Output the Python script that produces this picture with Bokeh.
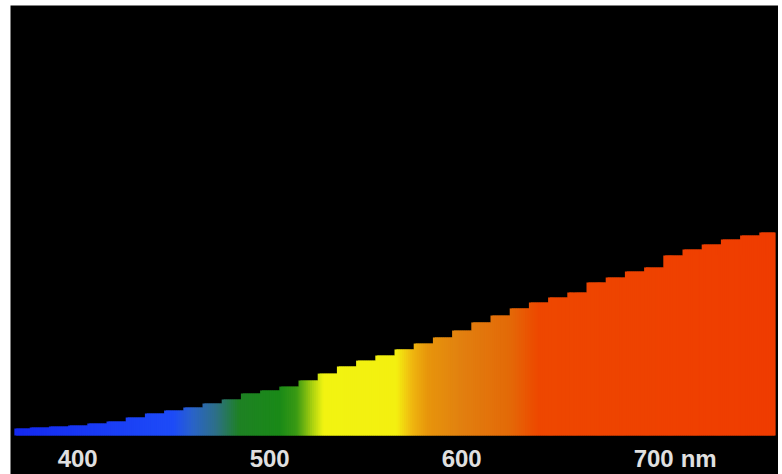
import numpy as np
from bokeh.plotting import figure
from bokeh.models import ColumnDataSource, Spacer, Range1d
from bokeh.layouts import row, column
from bokeh.core.properties import value
from bokeh.embed import file_html
from bokeh.resources import INLINE

# --- data: relative intensity per 10-nm step ---
wavelength_nm = [370, 380, 390, 400, 410, 420, 430, 440, 450, 460,
                 470, 480, 490, 500, 510, 520, 530, 540, 550, 560,
                 570, 580, 590, 600, 610, 620, 630, 640, 650, 660,
                 670, 680, 690, 700, 710, 720, 730, 740, 750, 760]
intensity = [3.4, 3.9, 4.4, 4.9, 5.9, 6.9, 8.9, 10.8, 12.3, 13.8,
             15.8, 17.7, 20.7, 22.2, 24.1, 27.1, 30.5, 34.0, 36.9, 39.4,
             42.4, 45.3, 48.3, 51.7, 55.7, 59.1, 62.6, 65.5, 68.0, 70.4,
             75.4, 77.8, 80.8, 82.8, 88.7, 91.6, 94.1, 96.6, 98.5, 100.0]
tick_values = [400, 500, 600, 700]
tick_labels = ["400", "500", "600", "700"]
unit_label = "nm"

# spectral colour stops (style)
stop_nm = [365, 450, 460, 472, 484, 505, 514, 522, 528, 566, 574, 582, 600, 625, 640, 765]
stop_hex = ["#1428f0", "#1e4cf8", "#2a64c8", "#2e7088", "#1f8224", "#1a8a18",
            "#3a9a14", "#a8d010", "#f2f412", "#f4f010", "#f0b810", "#e8960c",
            "#e28010", "#e46a08", "#ee4800", "#f03c00"]

def hex2rgb(h):
    return [int(h[i:i + 2], 16) for i in (1, 3, 5)]

stop_rgb = np.array([hex2rgb(h) for h in stop_hex], dtype=float)

# fine strips for a smooth colour gradient; each strip takes its 10-nm step height
fine_left = np.arange(367, 763, 1.0)
wl = np.array(wavelength_nm, dtype=float)
idx = np.clip(np.round((fine_left + 0.5 - wl[0]) / 10).astype(int), 0, len(wl) - 1)
heights = np.array(intensity)[idx]
mid = fine_left + 0.5
cols = []
for m in mid:
    r, g, b = (np.interp(m, stop_nm, stop_rgb[:, k]) for k in range(3))
    cols.append("#%02x%02x%02x" % (int(r), int(g), int(b)))
right = np.minimum(fine_left + 2.0, 763.5)

src = ColumnDataSource(dict(left=fine_left, right=right,
                            top=heights, bottom=np.zeros_like(heights), color=cols))

p = figure(frame_width=768, frame_height=469, output_backend="svg", toolbar_location=None,
           x_range=Range1d(365, 765), y_range=Range1d(-19.2, 211.8),
           min_border_left=0, min_border_right=0, min_border_top=0, min_border_bottom=0)
p.background_fill_color = "black"
p.border_fill_color = "black"
p.outline_line_color = None
p.grid.visible = False
p.xaxis.visible = False
p.yaxis.visible = False

p.quad(left="left", right="right", top="top", bottom="bottom", source=src,
       fill_color="color", line_color=None)

lab_src = ColumnDataSource(dict(x=tick_values, y=[-11.3] * len(tick_values), text=tick_labels))
p.text(x="x", y="y", text="text", source=lab_src, text_align="center",
       text_baseline="middle", text_color="#e0e0e0", text_font=value("Liberation Sans"),
       text_font_style="bold", text_font_size="24px")
p.text(x=[tick_values[-1]], y=[-11.3], text=[unit_label], x_offset=27, text_align="left",
       text_baseline="middle", text_color="#e0e0e0", text_font=value("Liberation Sans"),
       text_font_style="bold", text_font_size="24px")

layout = row(Spacer(width=10), column(Spacer(height=5), p))
open("out.html", "w").write(file_html(layout, INLINE))
